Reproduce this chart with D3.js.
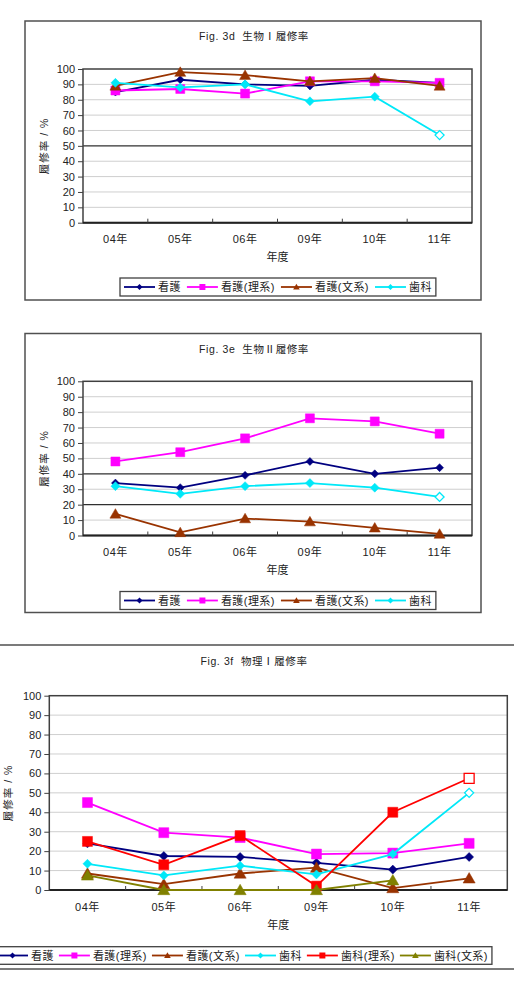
<!DOCTYPE html>
<html>
<head>
<meta charset="utf-8">
<script src="https://cdn.jsdelivr.net/npm/d3@7/dist/d3.min.js"></script>
<style>
body{margin:0;background:#fff;}
svg{display:block;}
text{font-family:"Liberation Sans","Noto Sans CJK JP",sans-serif;fill:#222;}
</style>
</head>
<body>
<script>
// categories / ticks
let years=["04年","05年","06年","09年","10年","11年"];
let yTicks=[0,10,20,30,40,50,60,70,80,90,100];
let names=["看護","看護(理系)","看護(文系)","歯科","歯科(理系)","歯科(文系)"];

// Fig. 3d 生物I
let bio1Kango=[85,93,90,89,93,91];
let bio1Rikei=[86,87,84,92,92,91];
let bio1Bunkei=[89,98,96,92,94,89];
let bio1Shika=[91,88,90,79,82,57];

// Fig. 3e 生物II
let bio2Kango=[34,31,39,48,40,44];
let bio2Rikei=[48,54,63,76,74,66];
let bio2Bunkei=[14,2,11,9,5,1];
let bio2Shika=[32,27,32,34,31,25];

// Fig. 3f 物理I
let phyKango=[24,17.5,17,14,10.5,17];
let phyRikei=[45,29.5,27,18.5,19,24];
let phyBunkei=[8.5,3,8.5,11.5,1,6];
let phyShika=[13.5,7.5,12.5,8,18.5,50];
let phyShikaRikei=[25,13,28,2,40,57.5];
let phyShikaBunkei=[7.5,0,0,0,5,null];

let colors=["#000080","#ff00ff","#993300","#00e8f8","#ff0000","#808000"];
let marks=["diamond","square","triangle","diamond","square","triangle"];

let svg=d3.select("body").append("svg").attr("width",514).attr("height",993);

function markPath(type,r){
  if(type=="diamond") return `M0,${-r}L${r},0L0,${r}L${-r},0Z`;
  if(type=="square") return `M${-r},${-r}H${r}V${r}H${-r}Z`;
  return `M0,${-r*1.05}L${r*1.1},${r*0.85}L${-r*1.1},${r*0.85}Z`;
}

function drawChart(c){
  let g=svg.append("g");
  g.append("rect").attr("x",c.box[0]).attr("y",c.box[1]).attr("width",c.box[2]).attr("height",c.box[3])
    .attr("fill","#fff").attr("stroke","#505050").attr("stroke-width",1.5);

  g.append("text").text(c.title).attr("x",c.titleX).attr("y",c.titleY).attr("text-anchor","middle")
    .attr("dominant-baseline","central").style("font-size","10.5px").style("letter-spacing","0.6px").style("white-space","pre");

  let x=d3.scaleBand().domain(years).range([c.l,c.r]);
  let y=d3.scaleLinear().domain([0,100]).range([c.b,c.t]);
  let cx=d=>x(d)+x.bandwidth()/2;

  // grid
  g.selectAll(".grid").data(yTicks.filter(v=>v>0&&v<100)).enter().append("line")
    .attr("x1",c.l).attr("x2",c.r).attr("y1",d=>y(d)).attr("y2",d=>y(d))
    .attr("stroke",d=>c.darkGrid.includes(d)?"#303030":"#cfcfcf")
    .attr("stroke-width",d=>c.darkGrid.includes(d)?1.2:1);

  g.append("rect").attr("x",c.l).attr("y",c.t).attr("width",c.r-c.l).attr("height",c.b-c.t)
    .attr("fill","none").attr("stroke","#404040").attr("stroke-width",1.5);
  g.append("line").attr("x1",c.l).attr("x2",c.r).attr("y1",c.b).attr("y2",c.b).attr("stroke","#222").attr("stroke-width",2);

  // y axis
  let ya=g.append("g").attr("transform",`translate(${c.l},0)`)
    .call(d3.axisLeft(y).tickValues(yTicks).tickSize(5).tickPadding(3).tickSizeOuter(0));
  ya.select(".domain").remove();
  ya.selectAll("line").attr("stroke","#404040");
  ya.selectAll("text").style("font-size","11px").attr("fill","#222");

  // x axis
  let xa=g.append("g").attr("transform",`translate(0,${c.b})`)
    .call(d3.axisBottom(x).tickSize(0).tickPadding(c.xPad));
  xa.select(".domain").remove();
  xa.selectAll("text").style("font-size","11px").style("letter-spacing","0.5px").attr("fill","#222");
  g.selectAll(".xt").data(years.slice(1)).enter().append("line")
    .attr("x1",d=>x(d)).attr("x2",d=>x(d)).attr("y1",c.b).attr("y2",c.b-4)
    .attr("stroke","#404040");

  g.append("text").text("年度").attr("x",(c.l+c.r)/2).attr("y",c.xTitleY)
    .attr("text-anchor","middle").attr("dominant-baseline","central").style("font-size","11px");
  g.append("text").text("履修率 / %")
    .attr("transform",`translate(${c.yTitleX},${(c.t+c.b)/2}) rotate(-90)`)
    .attr("text-anchor","middle").attr("dominant-baseline","central")
    .style("font-size","10.5px").style("letter-spacing","1px").style("white-space","pre");

  // series
  c.series.forEach((s,i)=>{
    let line=d3.line().defined(v=>v!=null).x((v,j)=>cx(years[j])).y(v=>y(v));
    g.append("path").datum(s).attr("d",line).attr("fill","none")
      .attr("stroke",colors[i]).attr("stroke-width",1.8);
    g.selectAll(".m"+i).data(s.map((v,j)=>[v,j]).filter(d=>d[0]!=null)).enter().append("path")
      .attr("d",markPath(marks[i],c.mr[i]))
      .attr("transform",d=>`translate(${cx(years[d[1]])},${y(d[0])})`)
      .attr("fill",d=>c.hollow.includes(i)&&d[1]==years.length-1?"#fff":colors[i])
      .attr("stroke",colors[i]).attr("stroke-width",d=>c.hollow.includes(i)&&d[1]==years.length-1?1.3:0.5);
  });

  // legend
  let lg=g.append("g");
  let lbox=lg.append("rect").attr("y",c.legY).attr("height",c.legH)
    .attr("fill","#fff").attr("stroke","#404040").attr("stroke-width",1.3);
  let px=c.legX+4;
  c.series.forEach((s,i)=>{
    let my=c.legY+c.legH/2;
    lg.append("line").attr("x1",px).attr("x2",px+31).attr("y1",my).attr("y2",my)
      .attr("stroke",colors[i]).attr("stroke-width",1.8);
    lg.append("path").attr("d",markPath(marks[i],3)).attr("transform",`translate(${px+15.5},${my})`)
      .attr("fill",colors[i]);
    let t=lg.append("text").text(names[i]).attr("x",px+34).attr("y",my)
      .attr("dominant-baseline","central").style("font-size","11px").style("letter-spacing","0.45px");
    px+=34+t.node().getComputedTextLength()+c.legGap;
  });
  lbox.attr("x",c.legX).attr("width",px-c.legGap+4-c.legX);
}

drawChart({
  title:"Fig. 3d  生物Ⅰ履修率",box:[25,21,456,279],titleX:254,titleY:36,
  l:83,r:472,t:69,b:222.7,xPad:13,xTitleY:257,yTitleX:44,
  darkGrid:[50],hollow:[3],mr:[4,4.5,5,4.5],
  legX:120,legY:278,legH:18,legGap:6,
  series:[bio1Kango,bio1Rikei,bio1Bunkei,bio1Shika]
});

drawChart({
  title:"Fig. 3e  生物Ⅱ履修率",box:[25,333.5,456,279],titleX:254,titleY:348.5,
  l:83,r:472,t:381.3,b:535.5,xPad:13,xTitleY:569.5,yTitleX:44,
  darkGrid:[40,20],hollow:[3],mr:[4,4.5,5,4.5],
  legX:120,legY:591.5,legH:18,legGap:6,
  series:[bio2Kango,bio2Rikei,bio2Bunkei,bio2Shika]
});

drawChart({
  title:"Fig. 3f  物理Ⅰ履修率",box:[-5,645,524,324],titleX:254,titleY:661,
  l:49.3,r:507.3,t:695.7,b:890,xPad:13,xTitleY:925,yTitleX:8,
  darkGrid:[],hollow:[3,4],mr:[4.5,5,5.5,4.5,5,5.5],
  legX:-7,legY:946.7,legH:17.6,legGap:5,
  series:[phyKango,phyRikei,phyBunkei,phyShika,phyShikaRikei,phyShikaBunkei]
});
</script>
</body>
</html>
